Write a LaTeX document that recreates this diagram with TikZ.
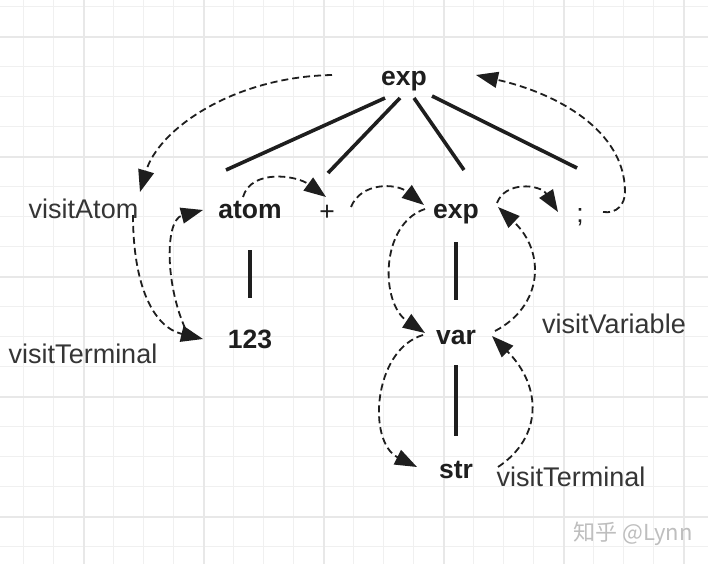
\documentclass[tikz,border=0pt]{standalone}
\usepackage{fontspec}
\setmainfont{Liberation Sans}
\newfontfamily\cjk{Noto Sans CJK SC}
\usepackage{xcolor}
\usepackage{tikz}
\usetikzlibrary{arrows.meta, calc}

\definecolor{gridminor}{RGB}{240,240,240}
\definecolor{gridmajor}{RGB}{232,232,232}
\definecolor{inkdark}{RGB}{30,30,30}
\definecolor{marklight}{RGB}{190,190,190}

\begin{document}
\begin{tikzpicture}[
        x=1pt, y=-1pt,
        treenode/.style={anchor=base, inner sep=0pt, font=\fontsize{26.5}{30}\selectfont\bfseries, text=inkdark},
        symnode/.style={anchor=base, inner sep=0pt, font=\fontsize{26.5}{30}\selectfont, text=inkdark},
        visitlabel/.style={anchor=base, inner sep=0pt, font=\fontsize{27}{31}\selectfont, text=inkdark!90},
        edge/.style={line width=3.6pt, draw=inkdark},
        visit/.style={-{Triangle[length=22pt, width=16pt]}, line width=1.8pt, dash pattern=on 7pt off 4pt, draw=inkdark},
        gridthin/.style={line width=1pt, draw=gridminor},
        gridthick/.style={line width=2pt, draw=gridmajor}
    ]
        % Background grid
        \fill[white] (0,0) rectangle (708,564);
        \useasboundingbox (0,0) rectangle (708,564);
        \foreach \gx in {23.5,53.5,...,708} \draw[gridthin] (\gx,0) -- (\gx,564);
        \foreach \gy in {6.7,36.7,...,564} \draw[gridthin] (0,\gy) -- (708,\gy);
        \foreach \gx in {83.5,203.5,...,708} \draw[gridthick] (\gx,0) -- (\gx,564);
        \foreach \gy in {36.7,156.7,...,564} \draw[gridthick] (0,\gy) -- (708,\gy);

        % Parse tree
        \node[treenode] (root) at (404,86) {exp};
        \node[treenode] (atom) at (250,218) {atom};
        \node[symnode] (plus) at (327,220) {+};
        \node[treenode] (expr) at (456,218) {exp};
        \node[symnode] (semi) at (580,222) {;};
        \node[treenode] (num) at (250,348) {123};
        \node[treenode] (var) at (456,344) {var};
        \node[treenode] (str) at (456,478) {str};

        % Visitor labels
        \node[visitlabel] (lblAtom) at (83.5,218) {visitAtom};
        \node[visitlabel] (lblTermL) at (83,363) {visitTerminal};
        \node[visitlabel] (lblVar) at (614,333) {visitVariable};
        \node[visitlabel] (lblTermR) at (571,486) {visitTerminal};
        \node[anchor=base, inner sep=0pt, font=\cjk\fontsize{22}{26}\selectfont, text=marklight] (mark) at (633,540) {知乎 @Lynn};

        % Tree edges
        \draw[edge] ($(root.base)+(-19,12)$) -- ($(atom.base)+(-24,-48)$);
        \draw[edge] ($(root.base)+(-4,12)$) -- ($(plus.base)+(1,-47)$);
        \draw[edge] ($(root.base)+(10,12)$) -- ($(expr.base)+(8,-48)$);
        \draw[edge] ($(root.base)+(28,10)$) -- ($(semi.base)+(-3,-54)$);
        \draw[edge] ($(atom.base)+(0,32)$) -- ($(num.base)+(0,-50)$);
        \draw[edge] ($(expr.base)+(0,24)$) -- ($(var.base)+(0,-44)$);
        \draw[edge] ($(var.base)+(0,21)$) -- ($(str.base)+(0,-42)$);

        % Visit order
        \draw[visit] ($(root.base)+(-72,-11)$) .. controls +(-100,2) and +(18,-62) .. ($(lblAtom.base)+(56.5,-26)$);
        \draw[visit] ($(lblAtom.base)+(49.5,-3)$) .. controls +(0,70) and +(-50,-12) .. ($(num.base)+(-47,-9)$);
        \draw[visit] ($(num.base)+(-65,-20)$) .. controls +(-20,-45) and +(-38,10) .. ($(atom.base)+(-47,-8)$);
        \draw[visit] ($(atom.base)+(-7,-21)$) .. controls +(8,-28) and +(-30,-22) .. ($(plus.base)+(-1,-23)$);
        \draw[visit] ($(plus.base)+(24,-13)$) .. controls +(10,-25) and +(-28,-22) .. ($(expr.base)+(-32,-13)$);
        \draw[visit] ($(expr.base)+(-31,-9)$) .. controls +(-45,15) and +(-45,-30) .. ($(var.base)+(-31,-11)$);
        \draw[visit] ($(var.base)+(-33,-9)$) .. controls +(-50,15) and +(-50,-25) .. ($(str.base)+(-39,-11)$);
        \draw[visit] ($(str.base)+(42,-11)$) .. controls +(45,-30) and +(50,50) .. ($(var.base)+(36,-8)$);
        \draw[visit] ($(var.base)+(39,-13)$) .. controls +(48,-25) and +(48,45) .. ($(expr.base)+(42,-11)$);
        \draw[visit] ($(expr.base)+(41,-15)$) .. controls +(8,-22) and +(-18,-28) .. ($(semi.base)+(-22,-10)$);
        \draw[visit] ($(semi.base)+(23,-10)$) .. controls +(14,2) and +(0,12) .. ($(semi.base)+(45,-30)$)
            .. controls +(0,-62) and +(80,18) .. ($(root.base)+(72,-11)$);

    \end{tikzpicture}
\end{document}
